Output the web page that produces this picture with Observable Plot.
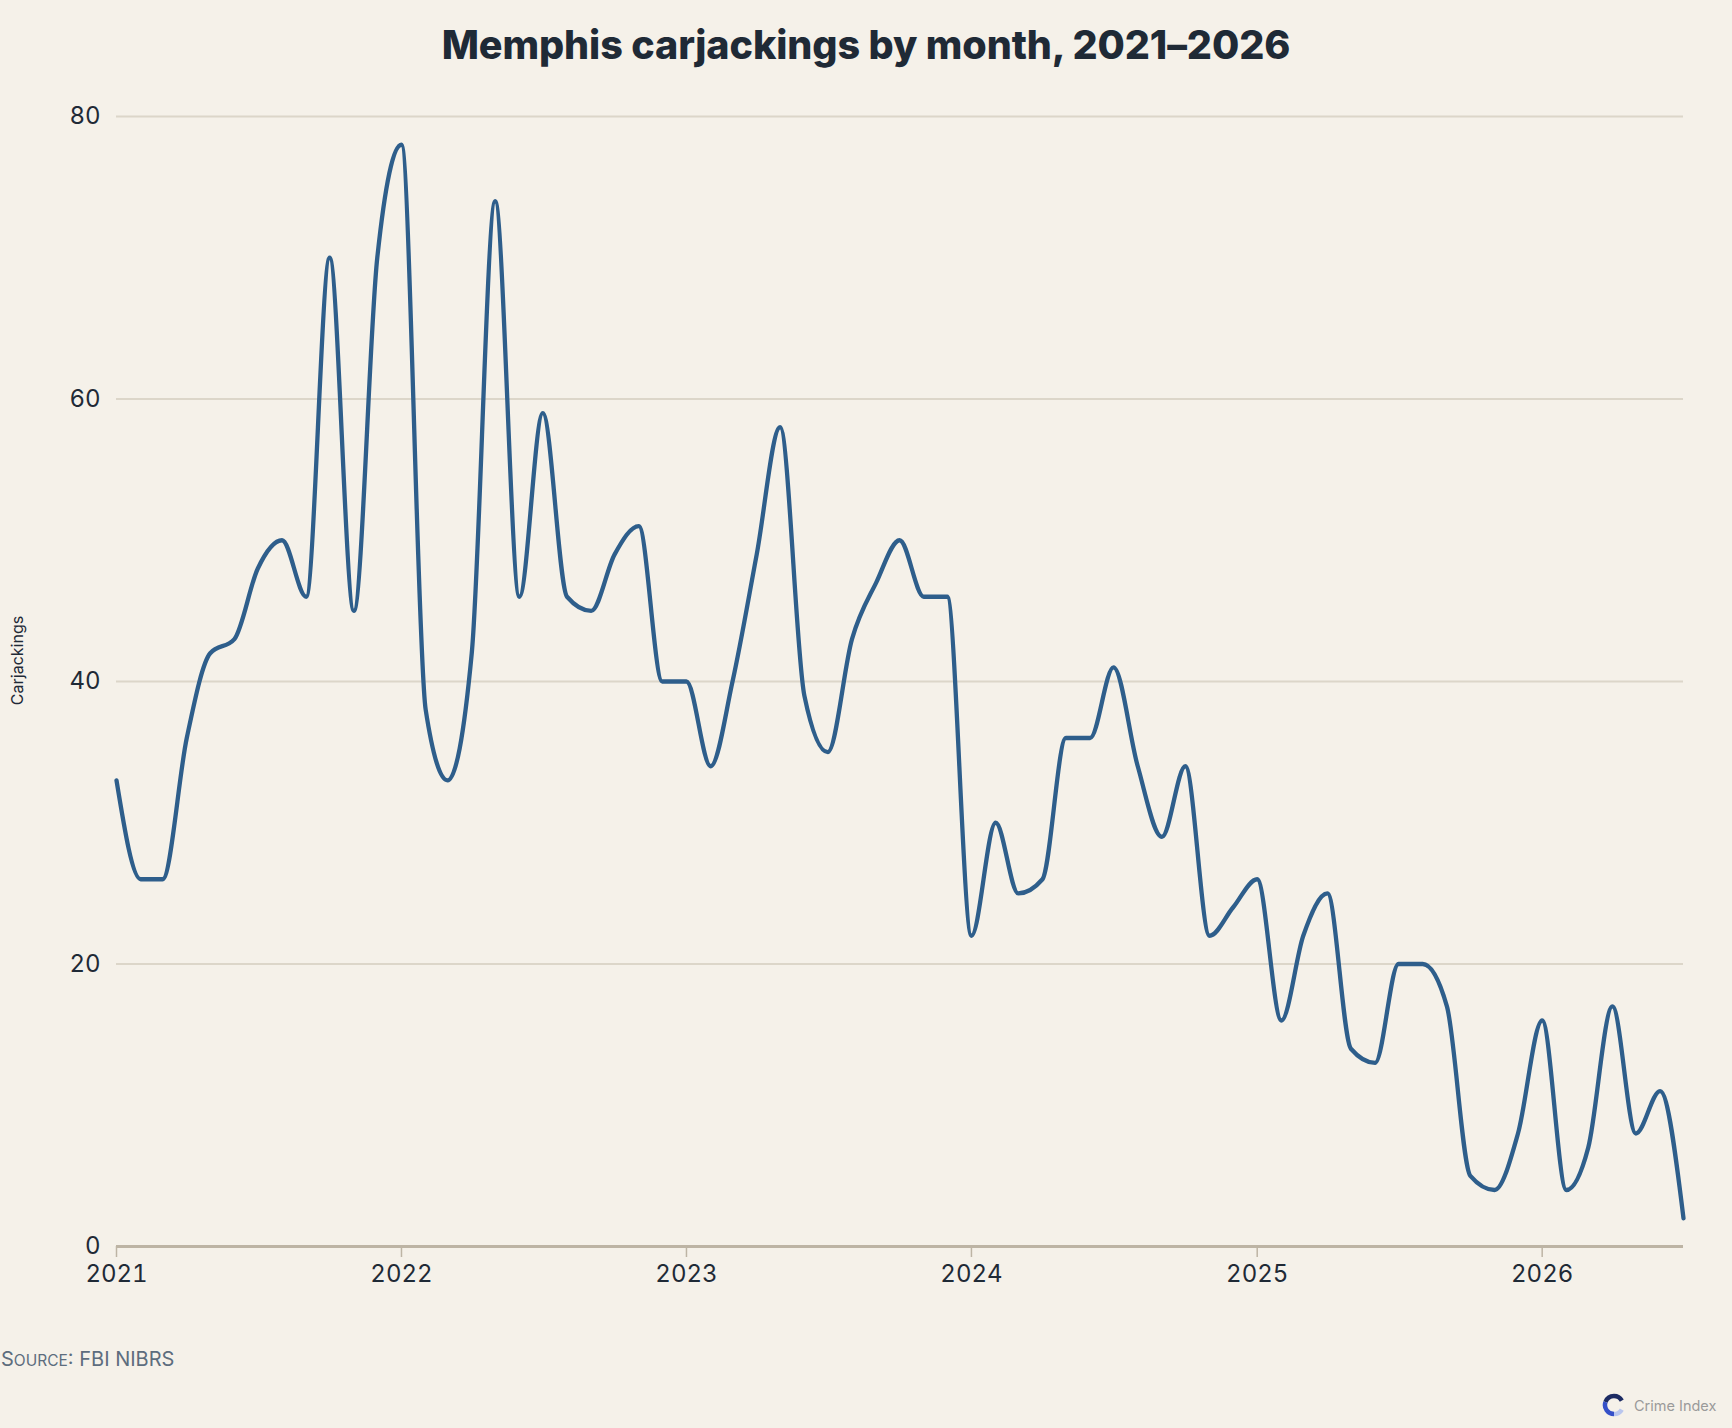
<!DOCTYPE html>
<html>
<head>
<meta charset="utf-8">
<script src="https://cdn.jsdelivr.net/npm/d3@7"></script>
<script src="https://cdn.jsdelivr.net/npm/@observablehq/plot@0.6"></script>
<style>
  html, body { margin: 0; padding: 0; background: #f5f1e9; }
  #wrap { position: relative; width: 1732px; height: 1428px; background: #f5f1e9; font-family: Inter, "Noto Sans", sans-serif; }
  #title { position: absolute; top: 21px; left: 0; width: 1732px; text-align: center; font-size: 39.5px; font-weight: 800; color: #1f2a36; letter-spacing: -0.1px; }
  #chart { position: absolute; top: 80px; left: 0; }
  #source { position: absolute; left: 1px; top: 1347px; font-size: 20px; color: #5d6d7e; }
  #source .sc { font-size: 15.5px; }
  #brand { position: absolute; left: 1602px; top: 1393px; display: flex; align-items: center; gap: 8px; font-size: 14.5px; color: #9a9a9a; }
</style>
</head>
<body>
<div id="wrap">
  <div id="title">Memphis carjackings by month, 2021–2026</div>
  <div id="chart"></div>
  <div id="source">S<span class="sc">OURCE</span>: FBI NIBRS</div>
  <div id="brand">
    <svg width="24" height="24" viewBox="0 0 24 24">
      <path d="M12 3 A9 9 0 0 1 19.8 7.5" fill="none" stroke="#1c2b63" stroke-width="4.5"/>
      <path d="M12 3 A9 9 0 0 0 3.5 9" fill="none" stroke="#1c2b63" stroke-width="4.5"/>
      <path d="M3.5 9 A9 9 0 0 0 12 21" fill="none" stroke="#3550c8" stroke-width="4.5"/>
      <path d="M12 21 A9 9 0 0 0 19.8 16.5" fill="none" stroke="#b9c6ee" stroke-width="4.5"/>
    </svg>
    <span>Crime Index</span>
  </div>
</div>
<script>
const startMonth = "2021-01-01";
const endMonth = "2026-07-01";
const values = [
  33, 26, 26, 36, 42, 43, 48, 50, 46, 70, 45, 70,
  78, 38, 33, 42, 74, 46, 59, 46, 45, 49, 51, 40,
  40, 34, 40, 49, 58, 39, 35, 43, 47, 50, 46, 46,
  22, 30, 25, 26, 36, 36, 41, 34, 29, 34, 22, 24,
  26, 16, 22, 25, 14, 13, 20, 20, 17, 5, 4, 8,
  16, 4, 7, 17, 8, 11, 2
];
const yTicks = [0, 20, 40, 60, 80];
const gridTicks = [20, 40, 60, 80];
const yLabel = "Carjackings";

const months = d3.utcMonth.range(new Date(startMonth), d3.utcMonth.offset(new Date(endMonth), 1));
const data = months.map((d, i) => ({date: d, value: values[i]}));

const chart = Plot.plot({
  width: 1732,
  height: 1216,
  marginLeft: 116,
  marginRight: 49,
  marginTop: 36,
  marginBottom: 50,
  style: {fontFamily: "Inter, 'Noto Sans', sans-serif", fontSize: "24px", background: "transparent", color: "#1f2a36"},
  x: {type: "utc", domain: [new Date(startMonth), new Date(endMonth)]},
  y: {domain: [0, 80]},
  marks: [
    Plot.gridY(gridTicks, {stroke: "#dcd6c9", strokeOpacity: 1, strokeWidth: 2}),
    Plot.axisY(yTicks, {tickSize: 0, tickPadding: 16, label: null, fill: "#1f2a36"}),
    Plot.ruleY([0], {stroke: "#bdb4a4", strokeWidth: 3}),
    Plot.axisX({ticks: d3.utcYear.every(1), tickFormat: "%Y", tickSize: 11, tickPadding: 7, stroke: "#bdb4a4", strokeWidth: 1.5, fill: "#1f2a36", label: null}),
    Plot.lineY(data, {x: "date", y: "value", curve: "monotone-x", stroke: "#2e5e8b", strokeWidth: 4.3}),
    Plot.text([yLabel], {frameAnchor: "left", textAnchor: "middle", rotate: -90, dx: -99, dy: -21, fontSize: 16, fill: "#1f2a36"})
  ]
});
document.getElementById("chart").appendChild(chart);
</script>
</body>
</html>
